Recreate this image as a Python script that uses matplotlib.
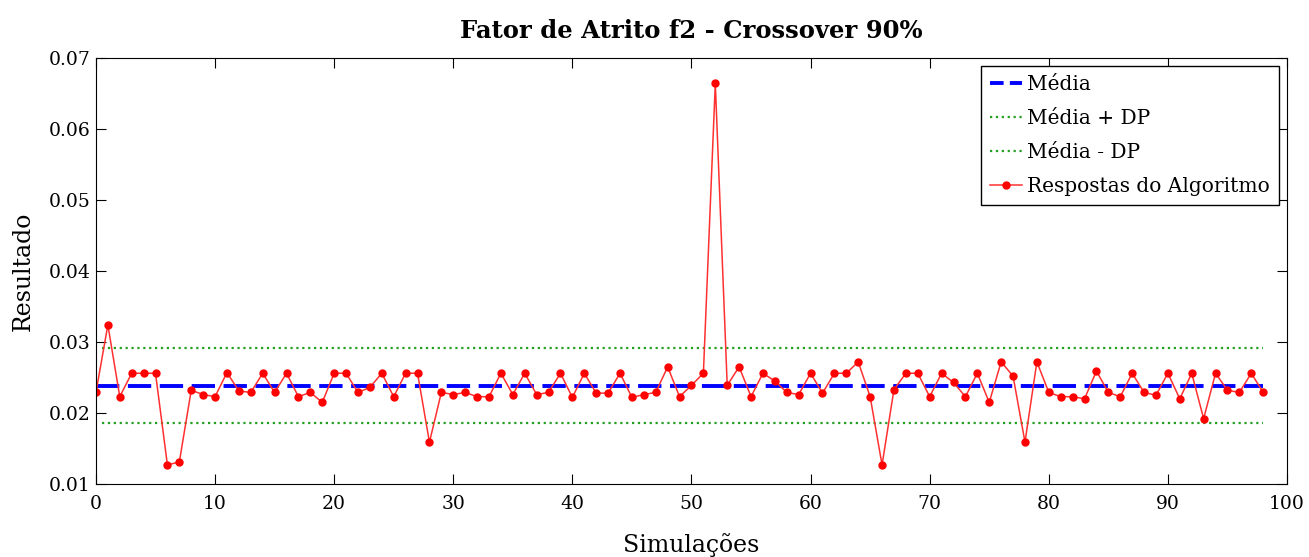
import matplotlib.pyplot as plt
import numpy as np

simulacoes = list(range(0, 99))
respostas = [
    0.0229, 0.0324, 0.0223, 0.0256, 0.0256, 0.0256, 0.0127, 0.0131, 0.0232, 0.0226,
    0.0223, 0.0257, 0.0231, 0.0229, 0.0256, 0.0229, 0.0256, 0.0223, 0.0229, 0.0215,
    0.0256, 0.0256, 0.0229, 0.0236, 0.0256, 0.0223, 0.0256, 0.0256, 0.0159, 0.0229,
    0.0226, 0.0229, 0.0223, 0.0223, 0.0256, 0.0226, 0.0256, 0.0226, 0.0229, 0.0256,
    0.0222, 0.0256, 0.0228, 0.0228, 0.0256, 0.0222, 0.0226, 0.0229, 0.0265, 0.0223,
    0.0239, 0.0256, 0.0664, 0.0239, 0.0265, 0.0223, 0.0256, 0.0245, 0.0229, 0.0226,
    0.0256, 0.0228, 0.0256, 0.0256, 0.0272, 0.0223, 0.0127, 0.0233, 0.0256, 0.0256,
    0.0223, 0.0256, 0.0243, 0.0223, 0.0256, 0.0215, 0.0272, 0.0252, 0.0159, 0.0272,
    0.0229, 0.0223, 0.0223, 0.0220, 0.0259, 0.0229, 0.0223, 0.0256, 0.0229, 0.0225,
    0.0256, 0.0220, 0.0256, 0.0192, 0.0256, 0.0232, 0.0229, 0.0256, 0.0229,
]
media = 0.02386
dp = 0.00527

plt.rcParams['font.family'] = ['DejaVu Serif']

fig = plt.figure(figsize=(13.09, 5.57), dpi=100)
ax = fig.add_axes([0.0733, 0.131, 0.9099, 0.765])

x0, x1 = simulacoes[0], simulacoes[-1]
ax.plot([x0, x1], [media, media], '--', color='blue', linewidth=2.8, dashes=(6, 2.2), label='Média')
ax.plot([x0 + 0.5, x1], [media + dp] * 2, ':', color='#22a022', linewidth=1.6, label='Média + DP')
ax.plot([x0 + 0.5, x1], [media - dp] * 2, ':', color='#22a022', linewidth=1.6, label='Média - DP')
ax.plot(simulacoes, respostas, '-', color='#ff3030', linewidth=1.1, marker='o',
        markersize=5, markerfacecolor='red', markeredgecolor='red', label='Respostas do Algoritmo')

ax.set_xlim(0, 100)
ax.set_ylim(0.01, 0.07)
ax.set_xticks(np.arange(0, 101, 10))
ax.set_yticks(np.arange(0.01, 0.0701, 0.01))
ax.set_yticklabels(['0.01', '0.02', '0.03', '0.04', '0.05', '0.06', '0.07'])
ax.tick_params(direction='in', top=True, right=True, labelsize=13.5, length=7)
ax.tick_params(axis='x', pad=8)
ax.tick_params(axis='y', pad=4)

ax.set_xlabel('Simulações', fontsize=17, labelpad=14)
ax.set_ylabel('Resultado', fontsize=17, labelpad=10)
ax.set_title('Fator de Atrito f2 - Crossover 90%', fontsize=17.5, fontweight='bold', pad=14)

leg = ax.legend(loc='upper right', fontsize=14.5, fancybox=False, framealpha=1,
                edgecolor='black', handlelength=1.6, handletextpad=0.25,
                borderaxespad=0.4, labelspacing=0.75, borderpad=0.45)
leg.get_frame().set_linewidth(1.0)
# shorter dashes in the legend so two of them show, as in the original
leg.legend_handles[0].set_dashes((3.5, 1.6))

fig.savefig('out.png', dpi=100)
